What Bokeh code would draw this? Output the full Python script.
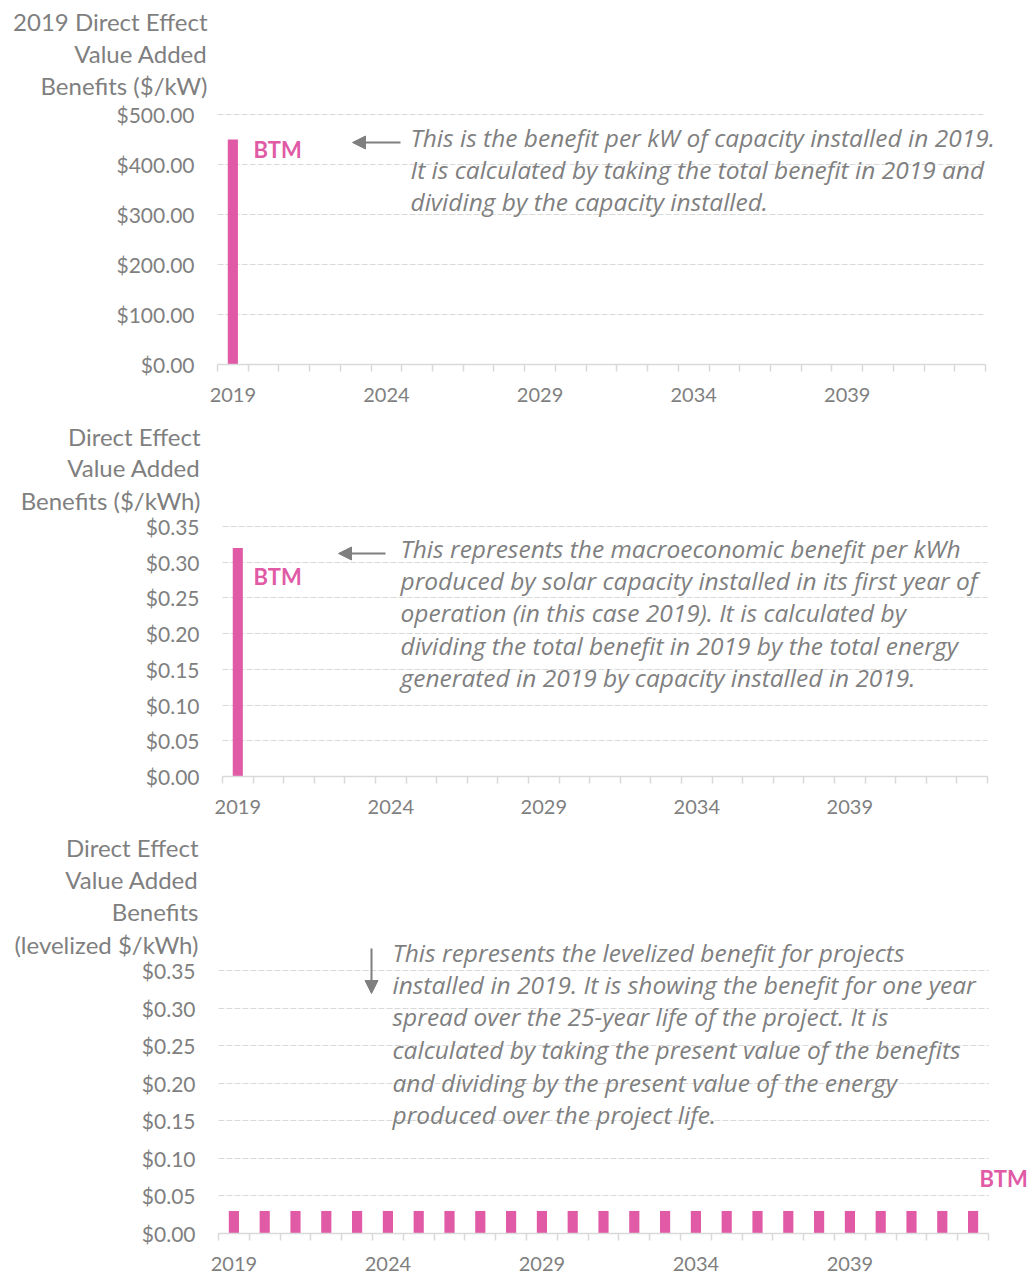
from bokeh.plotting import figure
from bokeh.layouts import column
from bokeh.models import (Range1d, FixedTicker, NumeralTickFormatter, Label, Arrow, NormalHead)
from bokeh.embed import file_html
from bokeh.resources import INLINE

# ---------------- data ----------------
YEARS = [2019, 2020, 2021, 2022, 2023, 2024, 2025, 2026, 2027, 2028, 2029, 2030, 2031,
         2032, 2033, 2034, 2035, 2036, 2037, 2038, 2039, 2040, 2041, 2042, 2043]
YEAR_LABELS = [2019, 2024, 2029, 2034, 2039]
SERIES = "BTM"
BENEFIT_PER_KW = [450] + [0] * 24            # $/kW, only 2019 installed
BENEFIT_PER_KWH = [0.32] + [0] * 24          # $/kWh first year
LEVELIZED_PER_KWH = [0.03] * 25              # levelized $/kWh over life
TICKS_KW = [0, 100, 200, 300, 400, 500]
TICKS_KWH = [0.0, 0.05, 0.10, 0.15, 0.20, 0.25, 0.30, 0.35]

TITLE1 = ["2019 Direct Effect", "Value Added", "Benefits ($/kW)"]
TITLE2 = ["Direct Effect", "Value Added", "Benefits ($/kWh)"]
TITLE3 = ["Direct Effect", "Value Added", "Benefits", "(levelized $/kWh)"]

NOTE1 = ["This is the benefit per kW of capacity installed in 2019.",
         "It is calculated  by taking the total benefit in 2019 and",
         "dividing by the capacity installed."]
NOTE2 = ["This represents  the macroeconomic  benefit per kWh",
         "produced by solar capacity installed in its first year of",
         "operation (in this case 2019).  It is calculated by",
         "dividing the total benefit in 2019 by the total energy",
         "generated  in 2019 by capacity  installed in 2019."]
NOTE3 = ["This represents  the levelized benefit for projects",
         "installed in 2019.  It is showing the benefit for one year",
         "spread over the 25-year life of the project.  It is",
         "calculated by taking the present value of the benefits",
         "and dividing by the present value of the energy",
         "produced over the project life."]

PINK = "#E05AA6"
GREY = "#7f7f7f"
GRID = "#d9d9d9"
FONT = "Lato"
NOTE_FONT = "Open Sans"

X0, X1 = YEARS[0] - 0.5, YEARS[-1] + 0.5
W = 1032
PX = 0   # page offset of the layout


def make_chart(values, ticks, fmt, page_top, H, frame, title_lines, title_right, title_ys,
               notes, note_x, note_ys, arrow, btm):
    fl, ft, fr, fb = frame             # plot-area edges on the page
    ymax = ticks[-1]
    kx = (fr - fl) / (X1 - X0)         # px per year
    ky = (fb - ft) / ymax              # px per unit
    xs = X0 - (fl - PX) / kx
    xe = X1 + (PX + W - fr) / kx
    ye = ymax + (ft - page_top) / ky
    ys = 0 - (page_top + H - fb) / ky

    def dx(px):
        return xs + (px - PX) / kx

    def dy(py):
        return ye - (py - page_top) / ky

    p = figure(width=W, height=H, min_border=0, min_border_left=0, min_border_right=0,
               min_border_top=0, min_border_bottom=0,
               x_range=Range1d(xs, xe), y_range=Range1d(ys, ye),
               output_backend="svg", toolbar_location=None, tools="")
    p.outline_line_color = None
    p.xgrid.grid_line_color = None
    grid = p.ygrid[0]
    grid.grid_line_color = GRID
    grid.grid_line_dash = "6 2"
    grid.grid_line_width = 1
    grid.cross_bounds = (X0, X1)

    p.yaxis.fixed_location = X0
    p.yaxis.bounds = (0, ymax)
    p.yaxis.ticker = FixedTicker(ticks=ticks)
    p.yaxis.formatter = NumeralTickFormatter(format=fmt)
    p.yaxis.axis_line_color = None
    p.yaxis.major_tick_line_color = None
    p.yaxis.minor_tick_line_color = None
    p.yaxis.major_tick_out = 0
    p.yaxis.major_tick_in = 0
    p.yaxis.major_label_standoff = 23
    p.yaxis.major_label_text_font = FONT
    p.yaxis.major_label_text_font_size = "21px"
    p.yaxis.major_label_text_color = GREY

    p.xaxis.fixed_location = 0
    p.xaxis.bounds = (X0, X1)
    p.xaxis.ticker = FixedTicker(ticks=YEAR_LABELS,
                                 minor_ticks=[y - 0.5 for y in YEARS] + [YEARS[-1] + 0.5])
    p.xaxis.axis_line_color = GRID
    p.xaxis.axis_line_width = 1.5
    p.xaxis.major_tick_line_color = None
    p.xaxis.major_tick_out = 0
    p.xaxis.major_tick_in = 0
    p.xaxis.minor_tick_line_color = GRID
    p.xaxis.minor_tick_line_width = 1.5
    p.xaxis.minor_tick_out = 7
    p.xaxis.minor_tick_in = 0
    p.xaxis.major_label_standoff = 16
    p.xaxis.major_label_text_font = FONT
    p.xaxis.major_label_text_font_size = "20px"
    p.xaxis.major_label_text_color = GREY

    p.vbar(x=YEARS, top=values, width=0.33, fill_color=PINK, line_color=None)

    for line, ty in zip(title_lines, title_ys):
        p.add_layout(Label(x=dx(title_right), y=dy(ty), text=line, text_align="right",
                           text_baseline="middle", text_font=FONT, text_font_size="24px",
                           text_color=GREY))
    for line, ty in zip(notes, note_ys):
        p.add_layout(Label(x=dx(note_x), y=dy(ty), text=line, text_align="left",
                           text_baseline="middle", text_font=NOTE_FONT, text_font_size="24.5px",
                           text_font_style="italic", text_color=GREY))
    (ax0, ay0, ax1, ay1) = arrow
    p.add_layout(Arrow(x_start=dx(ax0), y_start=dy(ay0), x_end=dx(ax1), y_end=dy(ay1),
                       line_color=GREY, line_width=2,
                       end=NormalHead(size=13, fill_color=GREY, line_color=GREY)))
    bx, by = btm
    p.add_layout(Label(x=dx(bx), y=dy(by), text=SERIES, text_align="left",
                       text_baseline="middle", text_font=FONT, text_font_size="22px",
                       text_font_style="bold", text_color=PINK))
    return p


p1 = make_chart(BENEFIT_PER_KW, TICKS_KW, "$0.00", 0, 412, (217, 114, 985, 364),
                TITLE1, 207, [21, 53, 85], NOTE1, 410, [137, 169, 201],
                (400, 142, 352, 142), (253, 149))
p2 = make_chart(BENEFIT_PER_KWH, TICKS_KWH, "$0.00", 412, 414, (222, 526, 987, 776),
                TITLE2, 200, [436, 467, 500], NOTE2, 400, [548, 580, 612, 645, 677],
                (385, 553, 338, 553), (253, 576))
p3 = make_chart(LEVELIZED_PER_KWH, TICKS_KWH, "$0.00", 826, 458, (218, 970, 988, 1233),
                TITLE3, 198, [847, 879, 911, 944], NOTE3, 392, [952, 984, 1016, 1049, 1082, 1114],
                (371, 948, 371, 993), (979, 1178))

layout = column(p1, p2, p3, spacing=0)
open("out.html", "w").write(file_html(layout, INLINE))
